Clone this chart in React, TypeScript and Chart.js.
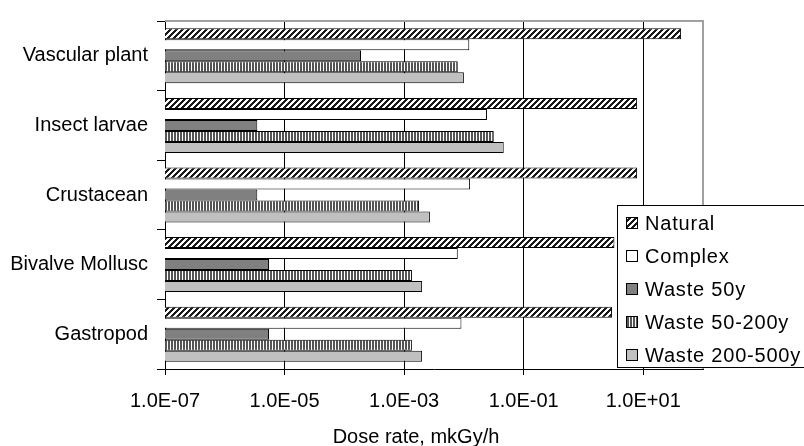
import React, { useEffect, useRef } from 'react';
import { Chart, registerables } from 'chart.js';

Chart.register(...registerables);

const categories = ['Vascular plant', 'Insect larvae', 'Crustacean', 'Bivalve Mollusc', 'Gastropod'];
const seriesNames = ['Natural', 'Complex', 'Waste 50y', 'Waste 50-200y', 'Waste 200-500y'];
const natural = [43, 7.9, 7.9, 3.3, 3.0];
const complex = [0.0123, 0.0243, 0.0127, 0.0079, 0.0091];
const waste50 = [1.9e-4, 3.5e-6, 3.5e-6, 5.5e-6, 5.5e-6];
const waste50to200 = [7.9e-3, 0.0316, 1.78e-3, 1.35e-3, 1.35e-3];
const waste200to500 = [0.01, 0.0464, 2.7e-3, 2.0e-3, 2.0e-3];
const xTickValues = [1e-7, 1e-5, 1e-3, 1e-1, 1e1];
const xMin = 1e-7;
const xMax = 1e2;
const axisTitle = 'Dose rate, mkGy/h';

const FONT = '"Liberation Sans", Arial, sans-serif';
const FONT_SIZE = 20;

function fmtExp(v: number): string {
  const e = Math.round(Math.log10(v));
  return '1.0E' + (e < 0 ? '-' : '+') + String(Math.abs(e)).padStart(2, '0');
}

function makePattern(ctx: CanvasRenderingContext2D, w: number, h: number, fn: (x: number, y: number) => string) {
  const c = document.createElement('canvas');
  c.width = w;
  c.height = h;
  const g = c.getContext('2d')!;
  for (let y = 0; y < h; y++) {
    for (let x = 0; x < w; x++) {
      g.fillStyle = fn(x, y);
      g.fillRect(x, y, 1, 1);
    }
  }
  return ctx.createPattern(c, 'repeat')!;
}

export default function App() {
  const ref = useRef<HTMLCanvasElement | null>(null);

  useEffect(() => {
    const canvas = ref.current!;
    const ctx = canvas.getContext('2d')!;
    const diag = makePattern(ctx, 6, 6, (x, y) => ((x + y) % 6 < 3 ? '#1a1a1a' : '#ffffff'));
    const vert = makePattern(ctx, 3, 1, (x) => (x < 2 ? '#555555' : '#ffffff'));
    const fills: any[] = [diag, '#ffffff', '#808080', vert, '#c0c0c0'];
    const values = [natural, complex, waste50, waste50to200, waste200to500];

    const overlay = {
      id: 'overlay',
      afterDraw(chart: any) {
        const c = chart.ctx as any;
        const a = chart.chartArea;
        c.save();
        c.strokeStyle = '#a0a0a0';
        c.lineWidth = 2;
        c.beginPath();
        c.moveTo(a.left, a.top);
        c.lineTo(a.right, a.top);
        c.lineTo(a.right, a.bottom);
        c.stroke();

        c.fillStyle = '#000';
        c.font = `${FONT_SIZE}px ${FONT}`;
        c.textAlign = 'center';
        c.textBaseline = 'middle';
        c.fillText(axisTitle, 416, 437);

        // legend
        const lx = 617, ly = 205, lw = 200, lh = 162;
        c.fillStyle = '#ffffff';
        c.fillRect(lx, ly, lw, lh);
        c.strokeStyle = '#000';
        c.lineWidth = 1;
        c.strokeRect(lx + 0.5, ly + 0.5, lw, lh);
        c.letterSpacing = '0.8px';
        chart.data.datasets.forEach((ds: any, i: number) => {
          const cy = 223 + 33 * i;
          c.fillStyle = ds.backgroundColor;
          c.fillRect(626, cy - 6, 12, 12);
          c.strokeStyle = '#000';
          c.strokeRect(626.5, cy - 5.5, 11, 11);
          c.fillStyle = '#000';
          c.textAlign = 'left';
          c.textBaseline = 'middle';
          c.fillText(ds.label, 645, cy + 1);
        });
        c.letterSpacing = '0px';
        c.restore();
      },
    };

    const chart = new Chart(canvas, {
      type: 'bar',
      data: {
        labels: categories,
        datasets: seriesNames.map((name, i) => ({
          label: name,
          data: values[i],
          backgroundColor: fills[i],
          borderColor: '#000',
          borderWidth: 1,
          categoryPercentage: 0.79,
          barPercentage: 1,
        })),
      },
      options: {
        indexAxis: 'y',
        responsive: false,
        animation: false,
        layout: { padding: { top: 14, right: 101, left: 0, bottom: 0 } },
        plugins: { legend: { display: false }, tooltip: { enabled: false }, title: { display: false } },
        scales: {
          x: {
            type: 'logarithmic',
            min: xMin,
            max: xMax,
            afterBuildTicks: (scale: any) => {
              scale.ticks = xTickValues.map((v) => ({ value: v }));
            },
            afterFit: (scale: any) => {
              scale.height = 77;
            },
            ticks: {
              autoSkip: false,
              maxRotation: 0,
              padding: 14,
              color: '#000',
              font: { family: FONT, size: FONT_SIZE },
              callback: (v: any) => fmtExp(Number(v)),
            },
            grid: { color: '#000', lineWidth: 1, tickLength: 6, drawOnChartArea: true },
            border: { display: true, color: '#000', width: 1 },
          },
          y: {
            type: 'category',
            offset: true,
            afterFit: (scale: any) => {
              scale.width = 165;
            },
            ticks: {
              padding: 9,
              color: '#000',
              font: { family: FONT, size: FONT_SIZE },
            },
            grid: { offset: true, drawOnChartArea: false, color: '#000', tickLength: 8 },
            border: { display: true, color: '#000', width: 1 },
          },
        },
      },
      plugins: [overlay],
    });
    return () => chart.destroy();
  }, []);

  return (
    <div style={{ position: 'fixed', left: 0, top: 0, width: 804, height: 446, background: '#fff' }}>
      <canvas ref={ref} width={804} height={446} style={{ display: 'block', width: 804, height: 446 }} />
    </div>
  );
}
